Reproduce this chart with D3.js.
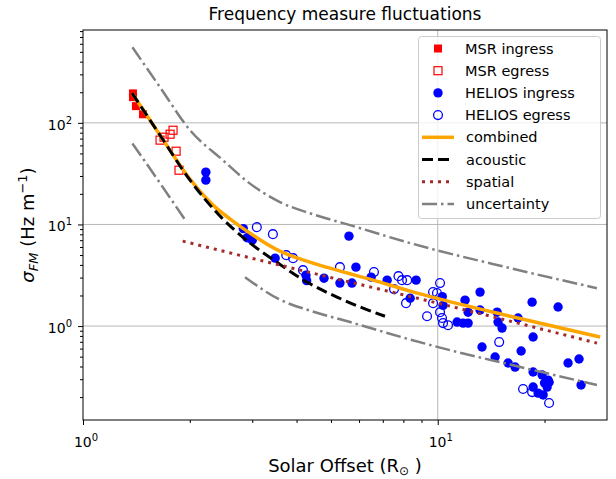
<!DOCTYPE html>
<html>
<head>
<meta charset="utf-8">
<script src="https://cdn.jsdelivr.net/npm/d3@7"></script>
<style>
body { margin: 0; background: #fff; }
svg text { font-family: "DejaVu Sans", sans-serif; fill: #000; }
</style>
</head>
<body>
<div id="chart"></div>
<script>
// solar offset (R_sun), sigma_FM (Hz m^-1)
const msrIngress = [[1.383, 195], [1.383, 179], [1.41, 146], [1.476, 121.5]];
const msrEgress = [[1.649, 67.6], [1.692, 72.2], [1.76, 77.3], [1.794, 84.6], [1.83, 52.6], [1.865, 34.2]];

const heliosIngress = [
    [2.22, 32.7], [2.22, 27.3], [2.83, 9.1], [2.90, 7.4], [3.0, 7.0], [3.48, 4.66],
    [4.25, 3.17], [4.27, 2.8], [4.78, 2.96], [5.30, 2.65], [5.62, 7.67], [5.73, 2.65],
    [5.88, 3.80], [6.49, 3.03], [7.20, 2.83], [8.69, 2.83], [8.36, 1.88], [10.3, 1.95],
    [10.35, 1.6], [11.34, 1.095], [11.79, 1.07], [12.18, 1.07], [11.94, 1.80], [12.18, 1.37],
    [13.16, 2.16], [13.16, 1.44], [14.7, 1.37], [14.79, 1.095], [15.18, 0.956], [13.33, 0.622],
    [18.45, 1.72], [21.84, 1.54], [16.84, 1.20], [18.57, 0.78], [17.18, 0.568], [14.51, 0.496],
    [15.79, 0.433], [16.52, 0.395], [23.3, 0.433], [25.02, 0.474], [18.57, 0.353], [19.69, 0.330],
    [20.47, 0.294], [20.34, 0.251], [18.57, 0.251], [19.18, 0.219], [19.82, 0.210], [20.6, 0.28],
    [20.0, 0.275], [25.35, 0.263]
];
const heliosEgress = [
    [3.09, 9.41], [3.43, 8.03], [3.74, 4.99], [3.91, 4.66], [4.17, 3.55], [5.30, 3.80],
    [6.61, 3.4], [7.53, 2.31], [7.75, 3.10], [7.93, 2.83], [8.20, 2.83], [8.14, 1.68],
    [9.33, 1.25], [9.70, 2.16], [9.95, 2.11], [10.15, 2.65], [9.70, 1.68], [10.15, 1.37],
    [10.28, 1.20], [10.35, 1.07], [10.69, 1.02], [14.9, 0.696], [17.40, 0.240], [18.45, 0.224],
    [20.60, 0.175]
];

// model curves
const combined = [[1.375, 196], [1.649, 75.5], [2.003, 27.9], [2.325, 15.5], [2.60, 11.3], [2.90, 8.6],
    [3.59, 5.46], [4.36, 4.26], [5.20, 3.55], [6.57, 2.83], [8.36, 2.21], [10.15, 1.84], [16.0, 1.25],
    [28.7, 0.78]];
const acoustic = [[1.375, 196], [1.649, 75.5], [2.003, 27.3], [2.433, 12.1], [2.96, 6.55], [3.48, 4.36],
    [4.28, 2.71], [5.20, 1.93], [6.16, 1.50], [7.1, 1.25]];
const spatial = [[1.91, 6.85], [4.1, 3.55], [10, 1.68], [28.1, 0.68]];
const uncUpper = [[1.378, 554], [1.649, 224], [2.003, 84.6], [2.48, 42.9], [2.919, 26.1], [3.59, 16.6],
    [4.36, 12.9], [5.66, 9.84], [8.36, 6.55], [16.0, 3.72], [28.1, 2.36]];
const uncLower1 = [[1.378, 62.6], [1.649, 25.5], [1.95, 10.8]];
const uncLower2 = [[2.862, 3.03], [3.59, 1.82], [4.36, 1.42], [5.66, 1.095], [8.36, 0.737],
    [10.15, 0.614], [16.0, 0.418], [28.1, 0.263]];

const xMajor = [1, 10];
const xMinor = [2, 3, 4, 5, 6, 7, 8, 9, 20];
const yMajor = [1, 10, 100];
const yMinor = [0.2, 0.3, 0.4, 0.5, 0.6, 0.7, 0.8, 0.9, 2, 3, 4, 5, 6, 7, 8, 9,
    20, 30, 40, 50, 60, 70, 80, 90, 200, 300, 400, 500, 600, 700, 800];

const width = 616, height = 479;
const margin = {top: 30, right: 9, bottom: 59, left: 83};

const svg = d3.select('#chart')
    .append('svg')
    .attr('width', width)
    .attr('height', height);

const x = d3.scaleLog().domain([1, 30]).range([margin.left, width - margin.right]);
const y = d3.scaleLog().domain([0.119, 820]).range([height - margin.bottom, margin.top]);

svg.append('clipPath').attr('id', 'plot')
    .append('rect')
    .attr('x', margin.left).attr('y', margin.top)
    .attr('width', width - margin.left - margin.right)
    .attr('height', height - margin.top - margin.bottom);

// grid
svg.append('g').selectAll('line')
    .data(yMajor)
    .enter().append('line')
    .attr('x1', margin.left).attr('x2', width - margin.right)
    .attr('y1', d => y(d)).attr('y2', d => y(d))
    .style('stroke', '#b0b0b0').style('stroke-width', 0.9);
svg.append('g').selectAll('line')
    .data([10])
    .enter().append('line')
    .attr('y1', margin.top).attr('y2', height - margin.bottom)
    .attr('x1', d => x(d)).attr('x2', d => x(d))
    .style('stroke', '#b0b0b0').style('stroke-width', 0.9);

// axes
const xAxisY = height - margin.bottom;
svg.append('g').attr('transform', `translate(0, ${xAxisY})`)
    .call(d3.axisBottom(x).tickValues(xMajor).tickSize(5).tickFormat(''));
svg.append('g').attr('transform', `translate(0, ${xAxisY})`)
    .call(d3.axisBottom(x).tickValues(xMinor).tickSize(3).tickFormat(''));
svg.append('g').attr('transform', `translate(${margin.left}, 0)`)
    .call(d3.axisLeft(y).tickValues(yMajor).tickSize(5).tickFormat(''));
svg.append('g').attr('transform', `translate(${margin.left}, 0)`)
    .call(d3.axisLeft(y).tickValues(yMinor).tickSize(3).tickFormat(''));
svg.selectAll('.domain').remove();
svg.selectAll('.tick line').style('stroke', '#000').style('stroke-width', 1);

// tick labels 10^n
function powerLabel(sel, d) {
    sel.append('tspan').text('10');
    sel.append('tspan').attr('dy', -6).style('font-size', '10px').text(Math.round(Math.log10(d)));
}
svg.append('g').selectAll('text')
    .data(xMajor)
    .enter().append('text')
    .attr('x', d => x(d) + 3).attr('y', 447)
    .attr('text-anchor', 'middle')
    .style('font-size', '14px')
    .each(function(d) { powerLabel(d3.select(this), d); });
svg.append('g').selectAll('text')
    .data(yMajor)
    .enter().append('text')
    .attr('x', 72).attr('y', d => y(d) + 7)
    .attr('text-anchor', 'end')
    .style('font-size', '14px')
    .each(function(d) { powerLabel(d3.select(this), d); });

// frame
svg.append('rect')
    .attr('x', margin.left).attr('y', margin.top)
    .attr('width', width - margin.left - margin.right)
    .attr('height', height - margin.top - margin.bottom)
    .style('fill', 'none').style('stroke', '#000').style('stroke-width', 1);

// points
const pts = svg.append('g').attr('clip-path', 'url(#plot)');
const sq = 8;
pts.selectAll('.mi').data(msrIngress).enter().append('rect')
    .attr('x', d => x(d[0]) - sq / 2).attr('y', d => y(d[1]) - sq / 2)
    .attr('width', sq).attr('height', sq)
    .style('fill', 'red');
pts.selectAll('.me').data(msrEgress).enter().append('rect')
    .attr('x', d => x(d[0]) - sq / 2).attr('y', d => y(d[1]) - sq / 2)
    .attr('width', sq).attr('height', sq)
    .style('fill', 'none').style('stroke', 'red').style('stroke-width', 1.2);
pts.selectAll('.hi').data(heliosIngress).enter().append('circle')
    .attr('cx', d => x(d[0])).attr('cy', d => y(d[1])).attr('r', 4.7)
    .style('fill', 'blue');
pts.selectAll('.he').data(heliosEgress).enter().append('circle')
    .attr('cx', d => x(d[0])).attr('cy', d => y(d[1])).attr('r', 4.4)
    .style('fill', 'none').style('stroke', 'blue').style('stroke-width', 1.3);

// curves
const line = d3.line()
    .x(d => x(d[0]))
    .y(d => y(d[1]))
    .curve(d3.curveMonotoneX);

const styles = {
    combined: {color: 'orange', width: 3.5, dash: null},
    acoustic: {color: 'black', width: 3, dash: '11,5'},
    spatial: {color: 'brown', width: 3, dash: '3,5'},
    uncertainty: {color: 'grey', width: 2.5, dash: '15,4,2.5,4'}
};

function drawCurve(data, s) {
    pts.append('path')
        .datum(data)
        .attr('d', line)
        .style('fill', 'none')
        .style('stroke', s.color)
        .style('stroke-width', s.width)
        .style('stroke-dasharray', s.dash);
}
drawCurve(combined, styles.combined);
drawCurve(acoustic, styles.acoustic);
drawCurve(spatial, styles.spatial);
drawCurve(uncUpper, styles.uncertainty);
drawCurve(uncLower1, styles.uncertainty);
drawCurve(uncLower2, styles.uncertainty);

// legend
const legendItems = [
    {label: 'MSR ingress', kind: 'sq', fill: 'red', stroke: 'none'},
    {label: 'MSR egress', kind: 'sq', fill: 'none', stroke: 'red'},
    {label: 'HELIOS ingress', kind: 'ci', fill: 'blue', stroke: 'none'},
    {label: 'HELIOS egress', kind: 'ci', fill: 'none', stroke: 'blue'},
    {label: 'combined', kind: 'line', style: styles.combined},
    {label: 'acoustic', kind: 'line', style: styles.acoustic},
    {label: 'spatial', kind: 'line', style: styles.spatial},
    {label: 'uncertainty', kind: 'line', style: styles.uncertainty}
];

const legend = svg.append('g');
legend.append('rect')
    .attr('x', 418.5).attr('y', 36.5)
    .attr('width', 182).attr('height', 182)
    .attr('rx', 3)
    .style('fill', 'white').style('fill-opacity', 0.8)
    .style('stroke', '#cccccc').style('stroke-width', 1);

legendItems.forEach(function(item, i) {
    const cy = 48.5 + i * 22.2;
    const g = legend.append('g');
    if (item.kind === 'sq') {
        g.append('rect')
            .attr('x', 438 - sq / 2).attr('y', cy - sq / 2)
            .attr('width', sq).attr('height', sq)
            .style('fill', item.fill).style('stroke', item.stroke).style('stroke-width', 1.2);
    } else if (item.kind === 'ci') {
        g.append('circle')
            .attr('cx', 438).attr('cy', cy).attr('r', item.fill === 'none' ? 4.4 : 4.7)
            .style('fill', item.fill).style('stroke', item.stroke).style('stroke-width', 1.3);
    } else {
        g.append('line')
            .attr('x1', 422).attr('x2', 454).attr('y1', cy).attr('y2', cy)
            .style('stroke', item.style.color)
            .style('stroke-width', item.style.width)
            .style('stroke-dasharray', item.style.dash);
    }
    g.append('text')
        .attr('x', item.kind === 'line' ? 466 : 465).attr('y', cy + 5)
        .style('font-size', '14.5px')
        .text(item.label);
});

// title and axis labels
svg.append('text')
    .attr('x', (margin.left + width - margin.right) / 2).attr('y', 20)
    .attr('text-anchor', 'middle')
    .style('font-size', '17px')
    .text('Frequency measure fluctuations');

const xl = svg.append('text')
    .attr('x', (margin.left + width - margin.right) / 2).attr('y', 472)
    .attr('text-anchor', 'middle')
    .style('font-size', '18px');
xl.append('tspan').text('Solar Offset (R');
xl.append('tspan').attr('dy', 3).style('font-size', '12px').text('\u2299');
xl.append('tspan').attr('dy', -3).text(' )');

const yl = svg.append('text')
    .attr('transform', `translate(34, ${(margin.top + height - margin.bottom) / 2}) rotate(-90)`)
    .attr('text-anchor', 'middle')
    .style('font-size', '18px');
yl.append('tspan').style('font-style', 'italic').text('\u03c3');
yl.append('tspan').attr('dy', 4).style('font-size', '13px').style('font-style', 'italic').text('FM');
yl.append('tspan').attr('dy', -4).text(' (Hz m');
yl.append('tspan').attr('dy', -7).style('font-size', '13px').text('\u22121');
yl.append('tspan').attr('dy', 7).text(')');
</script>
</body>
</html>
